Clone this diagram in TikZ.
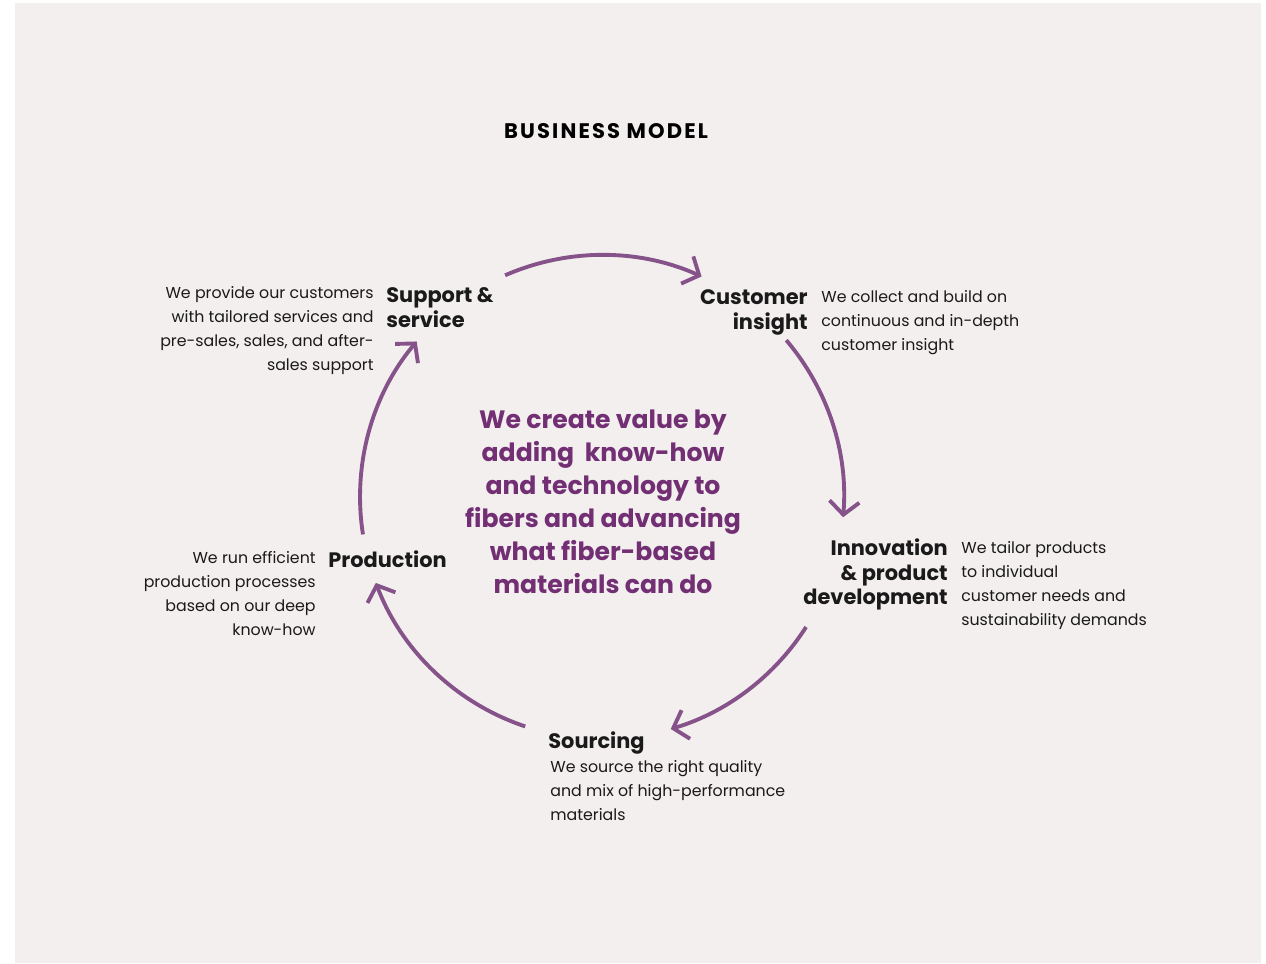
\documentclass[tikz,border=0pt]{standalone}
\usepackage{fontspec}
\setmainfont{Poppins}
\newfontfamily\titlefont[LetterSpace=10]{Poppins}
\usetikzlibrary{arrows.meta}

\definecolor{paper}{HTML}{F3EFEE}
\definecolor{plum}{HTML}{86528A}
\definecolor{plumtext}{HTML}{722F74}
\definecolor{ink}{HTML}{1A1A1A}

\begin{document}
\begin{tikzpicture}
  [x=0.02cm, y=0.02cm,
   stage/.style={inner sep=0pt, text=ink, font=\fontsize{11.9}{14.2}\selectfont\bfseries},
   blurb/.style={inner sep=0pt, text=ink, font=\fontsize{9}{13.6}\selectfont},
   cycle arrow/.style={draw=plum, line width=2.2pt, -{Straight Barb[length=7.5pt,width=17pt]}}]

  % background
  \fill[paper] (15,0) rectangle (1261,960);
  \useasboundingbox (0,0) rectangle (1266,963);

  \node[text=black, font=\titlefont\fontsize{12}{14}\selectfont\bfseries] (title) at (606,832) {BUSINESS MODEL};

  % centre of the cycle
  \coordinate (ctr) at (602,466);

  \node[anchor=north, align=center, inner sep=0pt, text=plumtext,
        font=\fontsize{14.3}{18.7}\selectfont\bfseries] (core) at (603,553)
    {We create value by\\adding\ \ know-how\\and technology to\\fibers and advancing\\what fiber-based\\materials can do};

  % stages
  \node[stage, anchor=north west, align=left] (support) at (386,676) {Support \&\\service};
  \node[blurb, anchor=north east, align=right] (support-txt) at (374,677)
    {We provide our customers\\with tailored services and\\pre-sales, sales, and after-\\sales support};

  \node[stage, anchor=north east, align=right] (insight) at (808,674) {Customer\\insight};
  \node[blurb, anchor=north west, align=left] (insight-txt) at (821,673)
    {We collect and build on\\continuous and in-depth\\customer insight};

  \node[stage, anchor=north east, align=right] (innov) at (948,425) {Innovation\\\& product\\development};
  \node[blurb, anchor=north west, align=left] (innov-txt) at (961,422)
    {We tailor products\\to individual\\customer needs and\\sustainability demands};

  \node[stage, anchor=north west] (prod) at (328,413) {Production};
  \node[blurb, anchor=north east, align=right] (prod-txt) at (316,412)
    {We run efficient\\production processes\\based on our deep\\know-how};

  \node[stage, anchor=north west] (sourcing) at (548,232) {Sourcing};
  \node[blurb, anchor=north west, align=left] (sourcing-txt) at (550,203)
    {We source the right quality\\and mix of high-performance\\materials};

  % arc starts
  \coordinate (a1) at ([shift={(113.6:4.84cm)}]ctr);
  \coordinate (a2) at ([shift={(40.4:4.84cm)}]ctr);
  \coordinate (a3) at ([shift={(-32.5:4.84cm)}]ctr);
  \coordinate (a4) at ([shift={(-108.5:4.84cm)}]ctr);
  \coordinate (a5) at ([shift={(188.9:4.84cm)}]ctr);

  \draw[cycle arrow] (a1) arc[start angle=113.6, end angle=65.7, radius=4.84cm];
  \draw[cycle arrow] (a2) arc[start angle=40.4, end angle=-4.8, radius=4.84cm];
  \draw[cycle arrow] (a3) arc[start angle=-32.5, end angle=-73.5, radius=4.84cm];
  \draw[cycle arrow] (a4) arc[start angle=-108.5, end angle=-159.2, radius=4.84cm];
  \draw[cycle arrow] (a5) arc[start angle=188.9, end angle=140, radius=4.84cm];
\end{tikzpicture}
\end{document}
